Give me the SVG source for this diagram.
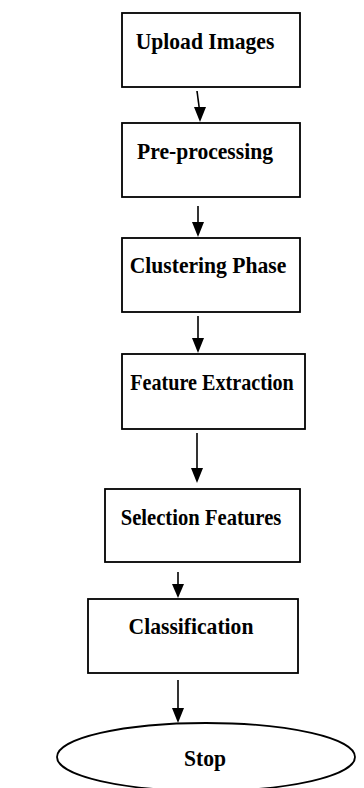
<svg xmlns="http://www.w3.org/2000/svg" width="364" height="788" viewBox="0 0 364 788">
<defs>
<style>
.box{fill:#fff;stroke:#000;stroke-width:1.8}
.lbl{font-family:"Liberation Serif","Times New Roman",serif;font-weight:bold;font-size:24px;fill:#000;text-anchor:middle}
.con{stroke:#000;stroke-width:1.6;fill:none}
.hd{fill:#000}
</style>
</defs>
<rect width="364" height="788" fill="#fff"/>
<g id="n1"><rect class="box" x="122" y="13" width="178" height="74"/><text class="lbl" transform="matrix(0.9 0 0 1 205 49)">Upload Images</text></g>
<g id="n2"><rect class="box" x="122" y="123" width="178" height="74"/><text class="lbl" transform="matrix(0.9 0 0 1 205 159)">Pre-processing</text></g>
<g id="n3"><rect class="box" x="122" y="238" width="178" height="74"/><text class="lbl" transform="matrix(0.9 0 0 1 208 273)">Clustering Phase</text></g>
<g id="n4"><rect class="box" x="122" y="354" width="183" height="75"/><text class="lbl" transform="matrix(0.84 0 0 1 212 390)">Feature Extraction</text></g>
<g id="n5"><rect class="box" x="105" y="489" width="195" height="73"/><text class="lbl" transform="matrix(0.86 0 0 1 201 525)">Selection Features</text></g>
<g id="n6"><rect class="box" x="88" y="599" width="210" height="74"/><text class="lbl" transform="matrix(0.9 0 0 1 191 634)">Classification</text></g>
<g id="n7"><ellipse class="box" cx="206" cy="757" rx="149" ry="34"/><text class="lbl" transform="matrix(0.9 0 0 1 205 766)">Stop</text></g>
<g id="connectors">
<line class="con" x1="197" y1="91" x2="199.5" y2="110"/><path class="hd" d="M194,107 L206,107 L200,122 Z"/>
<line class="con" x1="198" y1="206" x2="198" y2="224"/><path class="hd" d="M192,222 L204,222 L198,237 Z"/>
<line class="con" x1="198" y1="316" x2="198" y2="340"/><path class="hd" d="M192,338 L204,338 L198,353 Z"/>
<line class="con" x1="197" y1="433" x2="197" y2="470"/><path class="hd" d="M191,468 L203,468 L197,483 Z"/>
<line class="con" x1="178" y1="572" x2="178" y2="586"/><path class="hd" d="M172,584 L184,584 L178,598 Z"/>
<line class="con" x1="178" y1="680" x2="178" y2="710"/><path class="hd" d="M172,708 L184,708 L178,723 Z"/>
</g>
</svg>
